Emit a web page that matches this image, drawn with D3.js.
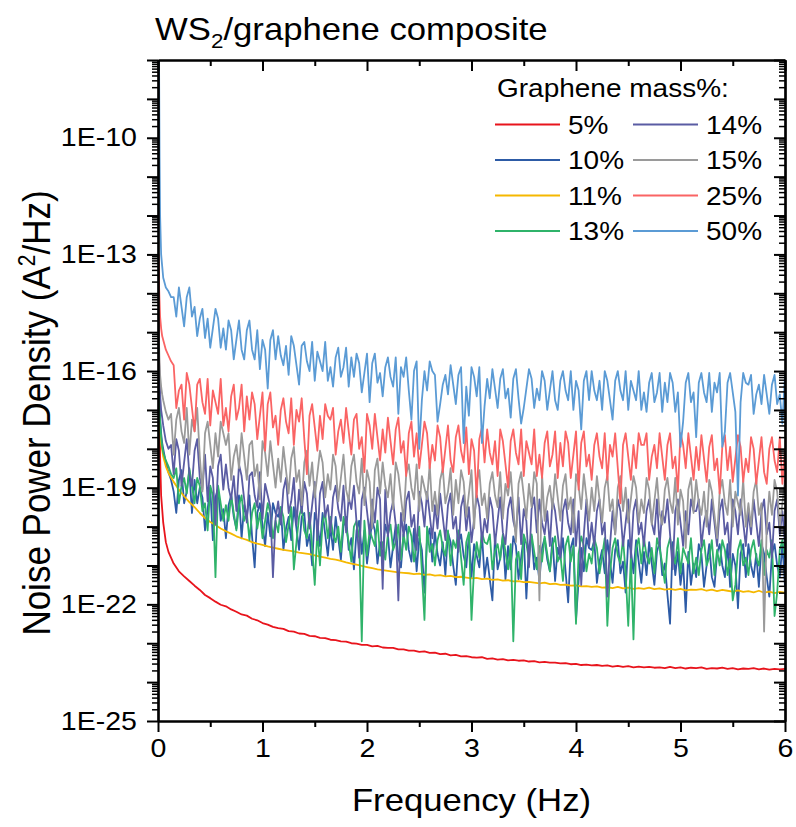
<!DOCTYPE html>
<html>
<head>
<meta charset="utf-8">
<script src="https://cdn.jsdelivr.net/npm/d3@7"></script>
<style>
  body { margin: 0; background: #fff; }
  text { font-family: "Liberation Sans", Arial, sans-serif; fill: #000; }
</style>
</head>
<body>
<div id="wrapper"></div>
<script>

// frequency grids (Hz): coarse for the smooth curves, fine for the noisy ones
const freqCoarse = [0.005, 0.01, 0.02, 0.03, 0.05, 0.075, 0.1,
  0.15, 0.2, 0.25, 0.3, 0.35, 0.4, 0.45, 0.5, 0.55, 0.6,
  0.65, 0.7, 0.75, 0.8, 0.85, 0.9, 0.95, 1, 1.05, 1.1,
  1.15, 1.2, 1.25, 1.3, 1.35, 1.4, 1.45, 1.5, 1.55, 1.6,
  1.65, 1.7, 1.75, 1.8, 1.85, 1.9, 1.95, 2, 2.05, 2.1,
  2.15, 2.2, 2.25, 2.3, 2.35, 2.4, 2.45, 2.5, 2.55, 2.6,
  2.65, 2.7, 2.75, 2.8, 2.85, 2.9, 2.95, 3, 3.05, 3.1,
  3.15, 3.2, 3.25, 3.3, 3.35, 3.4, 3.45, 3.5, 3.55, 3.6,
  3.65, 3.7, 3.75, 3.8, 3.85, 3.9, 3.95, 4, 4.05, 4.1,
  4.15, 4.2, 4.25, 4.3, 4.35, 4.4, 4.45, 4.5, 4.55, 4.6,
  4.65, 4.7, 4.75, 4.8, 4.85, 4.9, 4.95, 5, 5.05, 5.1,
  5.15, 5.2, 5.25, 5.3, 5.35, 5.4, 5.45, 5.5, 5.55, 5.6,
  5.65, 5.7, 5.75, 5.8, 5.85, 5.9, 5.95, 6]

const freqFine = [0.005, 0.01, 0.015, 0.02, 0.03, 0.04, 0.05, 0.075, 0.1, 0.125,
  0.15, 0.175, 0.2, 0.225, 0.25, 0.275, 0.3, 0.325, 0.35, 0.375, 0.4, 0.425, 0.45, 0.475, 0.5, 0.525, 0.55, 0.575, 0.6, 0.625,
  0.65, 0.675, 0.7, 0.725, 0.75, 0.775, 0.8, 0.825, 0.85, 0.875, 0.9, 0.925, 0.95, 0.975, 1, 1.025, 1.05, 1.075, 1.1, 1.125,
  1.15, 1.175, 1.2, 1.225, 1.25, 1.275, 1.3, 1.325, 1.35, 1.375, 1.4, 1.425, 1.45, 1.475, 1.5, 1.525, 1.55, 1.575, 1.6, 1.625,
  1.65, 1.675, 1.7, 1.725, 1.75, 1.775, 1.8, 1.825, 1.85, 1.875, 1.9, 1.925, 1.95, 1.975, 2, 2.025, 2.05, 2.075, 2.1, 2.125,
  2.15, 2.175, 2.2, 2.225, 2.25, 2.275, 2.3, 2.325, 2.35, 2.375, 2.4, 2.425, 2.45, 2.475, 2.5, 2.525, 2.55, 2.575, 2.6, 2.625,
  2.65, 2.675, 2.7, 2.725, 2.75, 2.775, 2.8, 2.825, 2.85, 2.875, 2.9, 2.925, 2.95, 2.975, 3, 3.025, 3.05, 3.075, 3.1, 3.125,
  3.15, 3.175, 3.2, 3.225, 3.25, 3.275, 3.3, 3.325, 3.35, 3.375, 3.4, 3.425, 3.45, 3.475, 3.5, 3.525, 3.55, 3.575, 3.6, 3.625,
  3.65, 3.675, 3.7, 3.725, 3.75, 3.775, 3.8, 3.825, 3.85, 3.875, 3.9, 3.925, 3.95, 3.975, 4, 4.025, 4.05, 4.075, 4.1, 4.125,
  4.15, 4.175, 4.2, 4.225, 4.25, 4.275, 4.3, 4.325, 4.35, 4.375, 4.4, 4.425, 4.45, 4.475, 4.5, 4.525, 4.55, 4.575, 4.6, 4.625,
  4.65, 4.675, 4.7, 4.725, 4.75, 4.775, 4.8, 4.825, 4.85, 4.875, 4.9, 4.925, 4.95, 4.975, 5, 5.025, 5.05, 5.075, 5.1, 5.125,
  5.15, 5.175, 5.2, 5.225, 5.25, 5.275, 5.3, 5.325, 5.35, 5.375, 5.4, 5.425, 5.45, 5.475, 5.5, 5.525, 5.55, 5.575, 5.6, 5.625,
  5.65, 5.675, 5.7, 5.725, 5.75, 5.775, 5.8, 5.825, 5.85, 5.875, 5.9, 5.925, 5.95, 5.975, 6]

// noise power density as log10(A^2/Hz), one list per graphene mass%
const log5 = [-13.0, -15.5, -18.2, -19.2, -19.9, -20.4, -20.65,
  -20.95, -21.15, -21.28, -21.4, -21.52, -21.63, -21.76, -21.84, -21.93, -22.01,
  -22.05, -22.13, -22.19, -22.26, -22.29, -22.37, -22.41, -22.48, -22.52, -22.58,
  -22.61, -22.63, -22.69, -22.7, -22.75, -22.76, -22.81, -22.82, -22.86, -22.87,
  -22.91, -22.92, -22.95, -22.96, -23.0, -23.01, -23.04, -23.04, -23.08, -23.07,
  -23.11, -23.12, -23.12, -23.16, -23.16, -23.19, -23.19, -23.22, -23.21, -23.25,
  -23.24, -23.28, -23.27, -23.31, -23.3, -23.34, -23.33, -23.36, -23.37, -23.36,
  -23.4, -23.39, -23.42, -23.41, -23.44, -23.43, -23.45, -23.44, -23.47, -23.46,
  -23.49, -23.48, -23.5, -23.5, -23.52, -23.51, -23.54, -23.53, -23.56, -23.55,
  -23.57, -23.56, -23.58, -23.57, -23.6, -23.58, -23.61, -23.59, -23.62, -23.6,
  -23.62, -23.61, -23.63, -23.62, -23.64, -23.61, -23.64, -23.62, -23.65, -23.63,
  -23.64, -23.62, -23.66, -23.64, -23.65, -23.63, -23.66, -23.64, -23.67, -23.65,
  -23.66, -23.64, -23.67, -23.65, -23.68, -23.66, -23.67, -23.66]

const log11 = [-16.6, -17.1, -17.6, -17.85, -18.2, -18.45, -18.62,
  -18.85, -19.05, -19.22, -19.37, -19.5, -19.65, -19.78, -19.88, -19.96, -20.05,
  -20.12, -20.18, -20.25, -20.3, -20.34, -20.4, -20.44, -20.47, -20.51, -20.54,
  -20.57, -20.6, -20.62, -20.64, -20.67, -20.69, -20.71, -20.74, -20.77, -20.8,
  -20.83, -20.85, -20.88, -20.92, -20.95, -20.98, -21.01, -21.04, -21.07, -21.1,
  -21.12, -21.14, -21.16, -21.18, -21.19, -21.2, -21.22, -21.21, -21.24, -21.23,
  -21.26, -21.25, -21.28, -21.27, -21.3, -21.29, -21.31, -21.33, -21.32, -21.35,
  -21.34, -21.37, -21.36, -21.39, -21.38, -21.41, -21.4, -21.43, -21.42, -21.44,
  -21.46, -21.44, -21.48, -21.47, -21.5, -21.49, -21.52, -21.51, -21.54, -21.53,
  -21.55, -21.54, -21.57, -21.56, -21.58, -21.55, -21.59, -21.57, -21.6, -21.58,
  -21.6, -21.57, -21.61, -21.59, -21.62, -21.6, -21.63, -21.6, -21.64, -21.62,
  -21.63, -21.61, -21.65, -21.62, -21.66, -21.63, -21.65, -21.67, -21.64, -21.68,
  -21.66, -21.69, -21.65, -21.7, -21.67, -21.71, -21.68, -21.7]

const log10 = [-15.4, -16.2, -16.8, -17.2, -17.6, -17.85, -18.0, -18.35, -18.6, -18.8,
  -19.1, -19.65, -18.8, -18.55, -19.4, -19.1, -18.55, -19.65, -18.8, -19.4, -19.0, -19.25, -20.1, -19.55, -19.0, -20.35, -19.25, -19.0, -19.85, -19.55,
  -20.3, -19.45, -19.2, -19.75, -20.05, -19.2, -20.3, -19.45, -19.75, -19.2, -20.25, -21.05, -19.65, -19.4, -19.95, -20.5, -19.65, -20.25, -19.4, -19.65,
  -19.75, -19.5, -20.6, -20.05, -19.75, -20.35, -19.5, -20.05, -20.6, -19.75, -19.65, -20.5, -20.2, -21.0, -19.65, -19.9, -20.5, -19.65, -20.2, -20.75,
  -20.0, -20.6, -19.75, -20.3, -20.85, -20.0, -19.75, -20.6, -20.3, -21.1, -20.1, -19.85, -20.7, -20.1, -20.95, -20.4, -19.85, -20.1, -20.95, -20.4,
  -20.8, -19.95, -20.2, -21.05, -20.5, -19.95, -20.8, -21.05, -20.2, -19.95, -20.6, -20.9, -20.05, -21.15, -20.3, -20.6, -21.7, -20.3, -20.05, -20.9,
  -20.15, -20.7, -21.0, -20.4, -21.25, -20.15, -20.4, -21.0, -21.5, -20.4, -20.2, -20.75, -21.05, -20.2, -21.3, -20.45, -20.75, -21.05, -20.2, -21.3,
  -20.8, -21.35, -21.9, -20.25, -21.1, -20.8, -20.25, -21.35, -20.5, -21.1, -20.25, -20.5, -21.35, -20.8, -20.25, -21.85, -20.5, -20.25, -21.1, -20.8,
  -21.4, -20.55, -20.3, -20.85, -21.15, -20.3, -21.4, -20.55, -20.85, -20.3, -21.15, -21.95, -20.55, -20.3, -22.4, -21.4, -20.55, -21.15, -20.3, -20.55,
  -20.6, -20.35, -21.45, -20.9, -20.6, -21.2, -20.35, -20.9, -21.45, -20.6, -20.35, -21.2, -20.9, -21.7, -20.35, -20.6, -21.2, -20.35, -20.9, -21.45,
  -20.65, -21.25, -20.4, -20.95, -21.5, -20.65, -20.4, -21.25, -20.95, -21.75, -22.5, -20.4, -21.25, -20.65, -21.5, -20.95, -22.2, -20.65, -21.5, -20.95,
  -21.3, -20.45, -20.7, -21.55, -21.0, -20.45, -21.3, -21.55, -20.7, -20.45, -21.0, -21.3, -20.45, -21.55, -20.7, -21.0, -22.1, -20.7, -20.45, -21.3,
  -20.45, -21.0, -21.3, -20.7, -21.55, -20.45, -20.7, -21.3, -21.8, -20.7, -20.45, -21.0, -21.3, -20.45, -21.55]

const log13 = [-15.6, -16.4, -17.0, -17.3, -17.7, -17.95, -18.1, -18.3, -18.45, -18.65,
  -18.75, -18.5, -19.4, -18.95, -18.75, -19.15, -18.5, -18.95, -19.4, -18.75, -18.95, -19.6, -19.4, -20.1, -18.95, -19.2, -21.3, -18.95, -19.4, -19.85,
  -19.45, -19.85, -19.2, -19.65, -20.1, -19.45, -19.2, -19.85, -19.65, -20.35, -19.65, -19.4, -20.05, -19.65, -20.3, -19.85, -19.4, -19.65, -20.3, -19.85,
  -20.15, -19.5, -19.75, -20.4, -19.95, -19.5, -21.1, -20.4, -19.75, -19.5, -20.1, -20.3, -19.65, -20.55, -21.5, -20.1, -21.0, -19.9, -19.65, -20.3,
  -19.75, -20.2, -20.4, -20.0, -20.65, -19.75, -20.0, -20.4, -20.9, -20.0, -19.85, -20.3, -22.95, -19.85, -20.75, -20.1, -20.3, -20.5, -19.85, -20.75,
  -20.4, -20.85, -20.2, -19.95, -20.6, -20.4, -19.95, -20.85, -20.2, -20.6, -20.0, -20.25, -20.9, -20.45, -20.0, -21.15, -22.4, -20.0, -20.65, -20.45,
  -21.0, -20.35, -20.1, -20.55, -20.75, -20.1, -21.0, -20.35, -20.55, -20.1, -20.8, -21.5, -20.4, -20.15, -22.4, -21.05, -20.4, -20.8, -20.15, -20.4,
  -20.45, -20.2, -21.1, -20.65, -20.45, -20.85, -20.2, -20.65, -21.1, -20.45, -22.95, -20.85, -20.65, -21.35, -20.2, -20.45, -20.85, -20.2, -20.65, -21.1,
  -20.5, -20.9, -20.25, -20.7, -21.15, -20.5, -20.25, -20.9, -20.7, -21.4, -20.5, -20.25, -20.9, -20.5, -22.5, -20.7, -20.25, -20.5, -21.15, -20.7,
  -20.95, -20.3, -20.55, -21.2, -20.75, -20.3, -22.55, -21.2, -20.55, -20.3, -20.75, -20.95, -20.3, -21.2, -22.55, -20.75, -22.9, -20.55, -20.3, -20.95,
  -20.3, -20.75, -20.95, -20.55, -21.2, -20.3, -20.55, -20.95, -21.45, -20.55, -20.3, -20.75, -20.95, -20.3, -21.2, -20.55, -20.75, -20.95, -20.3, -21.2,
  -20.8, -21.25, -20.6, -20.35, -21.0, -20.8, -20.35, -21.25, -20.6, -21.0, -20.35, -20.6, -21.25, -20.8, -21.9, -21.5, -20.6, -20.35, -21.0, -20.8,
  -21.25, -20.6, -20.35, -20.8, -21.0, -20.35, -21.25, -20.6, -20.8, -20.35, -22.3, -21.7, -20.6, -20.35, -20.8]

const log14 = [-15.0, -15.7, -16.2, -16.6, -17.0, -17.2, -17.4, -17.8, -18.0, -17.9,
  -18.65, -17.75, -18.05, -18.95, -18.35, -17.75, -18.65, -18.95, -18.05, -17.75, -18.75, -19.05, -18.15, -19.35, -18.45, -18.75, -19.95, -18.45, -18.15, -19.05,
  -18.4, -19.0, -19.3, -18.7, -19.6, -18.4, -18.7, -19.3, -19.9, -18.7, -18.6, -19.2, -19.5, -18.6, -19.8, -18.9, -19.2, -19.5, -21.3, -19.8,
  -19.35, -19.95, -19.05, -18.75, -19.65, -19.35, -18.75, -19.95, -19.05, -19.65, -18.85, -19.15, -20.05, -19.45, -18.85, -20.35, -19.15, -18.85, -19.75, -19.45,
  -20.15, -19.25, -18.95, -19.55, -19.85, -18.95, -20.15, -19.25, -19.55, -18.95, -19.9, -20.8, -19.3, -19.0, -19.6, -20.2, -19.3, -19.9, -19.0, -19.3,
  -21.6, -19.05, -20.25, -19.65, -19.35, -19.95, -21.9, -19.65, -20.25, -19.35, -19.1, -20.0, -19.7, -20.6, -19.1, -19.4, -20.0, -19.1, -19.7, -20.3,
  -19.45, -20.05, -19.15, -19.75, -20.35, -19.45, -19.15, -20.05, -19.75, -20.65, -19.5, -19.2, -20.1, -19.5, -20.4, -19.8, -19.2, -19.5, -20.4, -19.8,
  -20.15, -19.25, -19.55, -20.45, -19.85, -19.25, -20.15, -20.45, -19.55, -19.25, -19.85, -20.15, -19.25, -20.45, -19.55, -19.85, -21.05, -19.55, -19.25, -20.15,
  -19.3, -19.9, -20.2, -19.6, -20.5, -19.3, -19.6, -20.2, -20.8, -19.6, -19.3, -19.9, -20.2, -19.3, -20.5, -19.6, -21.5, -20.2, -19.3, -20.5,
  -19.9, -20.5, -19.6, -19.3, -20.2, -19.9, -21.8, -20.5, -19.6, -20.2, -19.3, -19.6, -20.5, -19.9, -19.3, -20.8, -19.6, -19.3, -20.2, -19.9,
  -20.5, -19.6, -19.3, -19.9, -20.2, -19.3, -20.5, -19.6, -19.9, -19.3, -20.2, -21.1, -19.6, -19.3, -19.9, -20.5, -19.6, -20.2, -19.3, -19.6,
  -19.6, -19.3, -20.5, -19.9, -19.6, -20.2, -19.3, -19.9, -20.5, -19.6, -19.3, -20.2, -19.9, -20.8, -19.3, -19.6, -20.2, -19.3, -19.9, -20.5,
  -19.6, -20.2, -19.3, -19.9, -20.5, -19.6, -19.3, -20.2, -19.9, -20.8, -19.6, -19.3, -20.2, -19.6, -20.5]

const log15 = [-14.6, -15.3, -15.8, -16.1, -16.4, -16.6, -16.75, -17.05, -17.25, -17.1,
  -18.15, -17.25, -16.95, -17.55, -17.85, -16.95, -18.15, -17.25, -17.55, -16.95, -18.2, -19.1, -17.6, -17.3, -17.9, -18.5, -17.6, -18.2, -17.3, -17.6,
  -17.9, -17.6, -18.8, -18.2, -17.9, -18.5, -17.6, -18.2, -18.8, -17.9, -17.8, -18.7, -18.4, -19.3, -17.8, -18.1, -18.7, -17.8, -18.4, -19.0,
  -18.25, -18.85, -17.95, -18.55, -19.15, -18.25, -17.95, -18.85, -18.55, -19.45, -18.35, -18.05, -18.95, -18.35, -19.25, -18.65, -18.05, -18.35, -19.25, -18.65,
  -19.05, -18.15, -18.45, -19.35, -18.75, -18.15, -19.05, -19.35, -18.45, -18.15, -18.85, -19.15, -18.25, -19.45, -18.55, -18.85, -20.05, -18.55, -18.25, -19.15,
  -18.35, -18.95, -19.25, -18.65, -19.55, -18.35, -18.65, -19.25, -19.85, -18.65, -18.4, -19.0, -19.3, -18.4, -19.6, -18.7, -19.0, -19.3, -18.4, -19.6,
  -19.1, -19.7, -18.8, -18.5, -19.4, -19.1, -18.5, -19.7, -18.8, -19.4, -18.55, -18.85, -19.75, -19.15, -18.55, -20.05, -18.85, -18.55, -19.45, -19.15,
  -19.8, -18.9, -18.6, -19.2, -19.5, -18.6, -19.8, -18.9, -19.2, -18.6, -19.5, -20.4, -18.9, -18.6, -19.2, -19.8, -18.9, -19.5, -18.6, -18.9,
  -21.9, -18.65, -19.85, -19.25, -18.95, -19.55, -18.65, -19.25, -19.85, -18.95, -18.65, -19.55, -19.25, -20.15, -18.65, -18.95, -19.55, -18.65, -19.25, -19.85,
  -19.0, -19.6, -18.7, -19.3, -19.9, -19.0, -18.7, -19.6, -19.3, -20.2, -19.0, -18.7, -19.6, -19.0, -19.9, -19.3, -18.7, -19.0, -19.9, -19.3,
  -19.65, -18.75, -19.05, -19.95, -19.35, -18.75, -19.65, -19.95, -19.05, -18.75, -19.35, -19.65, -18.75, -19.95, -19.05, -19.35, -20.55, -19.05, -18.75, -19.65,
  -18.8, -19.4, -19.7, -19.1, -20.0, -18.8, -19.1, -19.7, -20.3, -19.1, -18.8, -19.4, -19.7, -18.8, -20.0, -19.1, -19.4, -19.7, -18.8, -20.0,
  -19.4, -20.0, -19.1, -18.8, -19.7, -19.4, -22.7, -20.0, -19.1, -19.7, -18.8, -19.1, -20.0, -19.4, -18.8]

const log25 = [-13.2, -13.8, -14.2, -14.6, -14.9, -15.1, -15.2, -15.45, -15.6, -15.75,
  -15.85, -16.95, -16.5, -16.35, -17.25, -16.05, -16.35, -16.95, -17.55, -16.35, -16.2, -16.8, -17.1, -16.2, -17.4, -16.5, -16.8, -17.1, -16.2, -17.4,
  -16.95, -17.55, -16.65, -16.35, -17.25, -16.95, -16.35, -17.55, -16.65, -17.25, -16.55, -16.85, -17.75, -17.15, -16.55, -18.05, -16.85, -16.55, -17.45, -17.15,
  -17.9, -17.0, -16.7, -17.3, -17.6, -16.7, -17.9, -17.0, -17.3, -16.7, -17.75, -18.65, -17.15, -16.85, -17.45, -18.05, -17.15, -17.75, -16.85, -17.15,
  -17.25, -16.95, -18.15, -17.55, -17.25, -17.85, -16.95, -17.55, -18.15, -17.25, -17.1, -18.0, -17.7, -18.6, -17.1, -17.4, -18.0, -17.1, -17.7, -18.3,
  -17.5, -18.1, -17.2, -17.8, -18.4, -17.5, -17.2, -18.1, -17.8, -18.7, -17.6, -17.3, -18.2, -17.6, -18.5, -17.9, -17.3, -17.6, -18.5, -17.9,
  -18.3, -17.4, -17.7, -18.6, -18.0, -17.4, -18.3, -18.6, -17.7, -17.4, -18.05, -18.35, -17.45, -18.65, -17.75, -18.05, -19.25, -17.75, -17.45, -18.35,
  -17.5, -18.1, -18.4, -17.8, -18.7, -17.5, -17.8, -18.4, -19.0, -17.8, -17.5, -18.1, -18.4, -17.5, -18.7, -17.8, -18.1, -18.4, -17.5, -18.7,
  -18.15, -18.75, -17.85, -17.55, -18.45, -18.15, -17.55, -18.75, -17.85, -18.45, -17.55, -17.85, -18.75, -18.15, -17.55, -19.05, -17.85, -17.55, -18.45, -18.15,
  -18.8, -17.9, -17.6, -18.2, -18.5, -17.6, -18.8, -17.9, -18.2, -17.6, -18.5, -19.4, -17.9, -17.6, -18.2, -18.8, -17.9, -18.5, -17.6, -17.9,
  -17.9, -17.6, -18.8, -18.2, -17.9, -18.5, -17.6, -18.2, -18.8, -17.9, -17.6, -18.5, -18.2, -19.1, -17.6, -17.9, -18.5, -17.6, -18.2, -18.8,
  -17.95, -18.55, -17.65, -18.25, -18.85, -17.95, -17.65, -18.55, -18.25, -19.15, -17.95, -17.65, -18.55, -17.95, -18.85, -18.25, -17.65, -17.95, -18.85, -18.25,
  -18.6, -17.7, -18.0, -18.9, -18.3, -17.7, -18.6, -18.9, -18.0, -17.7, -18.3, -18.6, -17.7, -18.9, -18.0]

const log50 = [-7.0, -8.0, -10.5, -12.0, -13.0, -13.3, -13.6, -13.85, -13.95, -14.1,
  -14.1, -14.6, -13.85, -14.35, -14.85, -14.1, -13.85, -14.6, -14.35, -15.1, -14.65, -14.4, -15.15, -14.65, -15.4, -14.9, -14.4, -14.65, -15.4, -14.9,
  -15.45, -14.7, -14.95, -15.7, -15.2, -14.7, -15.45, -15.7, -14.95, -14.7, -15.45, -15.7, -14.95, -15.95, -15.2, -15.45, -16.45, -15.2, -14.95, -15.7,
  -15.1, -15.6, -15.85, -15.35, -16.1, -15.1, -15.35, -15.85, -16.35, -15.35, -15.25, -15.75, -16.0, -15.25, -16.25, -15.5, -15.75, -16.0, -15.25, -16.25,
  -15.9, -16.4, -15.65, -15.4, -16.15, -15.9, -15.4, -16.4, -15.65, -16.15, -15.55, -15.8, -16.55, -16.05, -15.55, -16.8, -15.8, -15.55, -16.3, -16.05,
  -16.65, -15.9, -15.65, -16.15, -16.4, -15.65, -17.1, -15.9, -16.15, -15.65, -16.5, -17.25, -16.0, -15.75, -18.0, -16.75, -16.0, -16.5, -15.75, -16.0,
  -16.1, -17.3, -16.85, -16.35, -16.1, -16.6, -15.85, -16.35, -16.85, -16.1, -15.9, -17.85, -16.4, -17.15, -15.9, -16.15, -16.65, -15.9, -17.85, -16.9,
  -16.2, -16.7, -15.95, -16.45, -16.95, -16.2, -15.95, -16.7, -16.45, -17.2, -16.2, -15.95, -16.7, -17.35, -16.95, -16.45, -15.95, -16.2, -16.95, -16.45,
  -16.75, -16.0, -16.25, -17.0, -16.5, -16.0, -16.75, -17.0, -16.25, -16.0, -16.5, -16.75, -16.0, -17.0, -16.25, -16.5, -17.5, -16.25, -16.0, -16.75,
  -16.0, -16.5, -16.75, -16.25, -17.0, -16.0, -16.25, -16.75, -17.25, -16.25, -16.0, -16.5, -16.75, -16.0, -17.0, -16.25, -16.5, -16.75, -16.0, -17.0,
  -16.55, -17.05, -16.3, -16.05, -16.8, -16.55, -16.05, -17.05, -16.3, -16.8, -16.05, -16.3, -17.05, -16.55, -17.95, -17.3, -16.3, -16.05, -16.8, -16.55,
  -17.7, -16.3, -16.05, -16.55, -16.8, -16.05, -17.05, -16.3, -16.55, -16.05, -17.95, -17.55, -16.3, -16.05, -16.55, -17.05, -19.2, -16.8, -16.05, -16.3,
  -16.35, -16.1, -17.1, -16.6, -16.35, -16.85, -16.1, -16.6, -17.1, -16.35, -16.1, -16.85, -16.6, -17.35, -16.1]

const seriesNames = ["5%", "10%", "11%", "13%", "14%", "15%", "25%", "50%"]
const seriesValues = [log5, log10, log11, log13, log14, log15, log25, log50]
const seriesFreq = [freqCoarse, freqFine, freqCoarse, freqFine, freqFine, freqFine, freqFine, freqFine]
const seriesColors = ["#e8141c", "#2d5ba6", "#f5b800", "#2fb36a", "#5a5ca3", "#9a9a9a", "#fa6464", "#5b9bd5"]

const xTicks = [0, 1, 2, 3, 4, 5, 6]
const yLabelExps = [-10, -13, -16, -19, -22, -25]

// glyphs in the picture are a bit wider than Arial
const SX = 1.12

function drawChart() {

    let dimensions = {
        width: 796,
        height: 827,
        margin: { top: 60, right: 11, bottom: 106, left: 158 },
    }
    dimensions.boundedWidth = dimensions.width - dimensions.margin.left - dimensions.margin.right
    dimensions.boundedHeight = dimensions.height - dimensions.margin.top - dimensions.margin.bottom

    const wrapper = d3.select("#wrapper")
        .append("svg")
        .attr("width", dimensions.width)
        .attr("height", dimensions.height)

    const bounds = wrapper.append("g")
        .attr("transform", `translate(${dimensions.margin.left}, ${dimensions.margin.top})`)

    // scales
    const xScale = d3.scaleLinear()
        .domain([0, 6])
        .range([0, dimensions.boundedWidth])

    const yScale = d3.scaleLog()
        .domain([1e-25, 1e-8])
        .range([dimensions.boundedHeight, 0])

    // data lines
    bounds.append("defs").append("clipPath")
        .attr("id", "plot-clip")
        .append("rect")
        .attr("width", dimensions.boundedWidth)
        .attr("height", dimensions.boundedHeight)

    const lineGenerator = d3.line()
        .x(d => xScale(d.f))
        .y(d => yScale(Math.pow(10, d.v)))

    const series = seriesNames.map((name, i) => ({
        name: name,
        color: seriesColors[i],
        points: seriesFreq[i].map((f, j) => ({ f: f, v: seriesValues[i][j] }))
            .filter(p => p.v !== undefined),
    }))

    bounds.append("g")
        .attr("clip-path", "url(#plot-clip)")
        .selectAll("path")
        .data(series)
        .enter().append("path")
        .attr("fill", "none")
        .attr("stroke", d => d.color)
        .attr("stroke-width", 1.8)
        .attr("stroke-linejoin", "round")
        .attr("d", d => lineGenerator(d.points))

    // axes
    const decades = d3.range(-25, -7).map(e => Math.pow(10, e))
    const minorY = []
    d3.range(-25, -8).forEach(e => { for (let m = 2; m <= 9; m++) minorY.push(m * Math.pow(10, e)) })
    const minorX = [0.5, 1.5, 2.5, 3.5, 4.5, 5.5]

    const yLabel = d => {
        const e = Math.round(Math.log10(d))
        return yLabelExps.includes(e) ? `1E${e}` : ""
    }

    const styleAxis = (g, w) => {
        g.selectAll(".domain").attr("stroke-width", 2.2)
        g.selectAll(".tick line").attr("stroke-width", w)
    }

    // left, outward
    const leftMinor = bounds.append("g")
        .call(d3.axisLeft(yScale).tickValues(minorY).tickSize(6).tickSizeOuter(0).tickFormat(""))
    styleAxis(leftMinor, 1.5)
    const leftAxis = bounds.append("g")
        .call(d3.axisLeft(yScale).tickValues(decades).tickSize(11).tickSizeOuter(0).tickPadding(10).tickFormat(yLabel))
    styleAxis(leftAxis, 2)
    leftAxis.selectAll("text")
        .attr("font-size", 25.5)
        .attr("font-family", "'Liberation Sans', Arial, sans-serif")
        .attr("x", -21 / SX)
        .attr("transform", `scale(${SX},1)`)

    // right, inward
    const rightMinor = bounds.append("g")
        .attr("transform", `translate(${dimensions.boundedWidth}, 0)`)
        .call(d3.axisLeft(yScale).tickValues(minorY).tickSize(6).tickSizeOuter(0).tickFormat(""))
    styleAxis(rightMinor, 1.5)
    const rightAxis = bounds.append("g")
        .attr("transform", `translate(${dimensions.boundedWidth}, 0)`)
        .call(d3.axisLeft(yScale).tickValues(decades).tickSize(11).tickSizeOuter(0).tickFormat(""))
    styleAxis(rightAxis, 2)

    // bottom, outward
    const bottomMinor = bounds.append("g")
        .attr("transform", `translate(0, ${dimensions.boundedHeight})`)
        .call(d3.axisBottom(xScale).tickValues(minorX).tickSize(6).tickSizeOuter(0).tickFormat(""))
    styleAxis(bottomMinor, 2)
    const bottomAxis = bounds.append("g")
        .attr("transform", `translate(0, ${dimensions.boundedHeight})`)
        .call(d3.axisBottom(xScale).tickValues(xTicks).tickSize(11).tickSizeOuter(0).tickPadding(7).tickFormat(d3.format("d")))
    styleAxis(bottomAxis, 2)
    bottomAxis.selectAll("text")
        .attr("font-size", 25.5)
        .attr("font-family", "'Liberation Sans', Arial, sans-serif")
        .attr("transform", `scale(${SX},1)`)

    // top, inward
    const topMinor = bounds.append("g")
        .call(d3.axisBottom(xScale).tickValues(minorX).tickSize(6).tickSizeOuter(0).tickFormat(""))
    styleAxis(topMinor, 2)
    const topAxis = bounds.append("g")
        .call(d3.axisBottom(xScale).tickValues(xTicks).tickSize(11).tickSizeOuter(0).tickFormat(""))
    styleAxis(topAxis, 2)

    // titles
    const title = wrapper.append("text")
        .attr("transform", `translate(155, 40) scale(${SX},1)`)
        .attr("font-size", 31)
    title.append("tspan").text("WS")
    title.append("tspan").attr("font-size", 20).attr("dy", 8).text("2")
    title.append("tspan").attr("dy", -8).text("/graphene composite")

    wrapper.append("text")
        .attr("transform", `translate(${dimensions.margin.left + dimensions.boundedWidth / 2}, 811) scale(${SX},1)`)
        .attr("text-anchor", "middle")
        .attr("font-size", 31)
        .text("Frequency (Hz)")

    const yTitle = wrapper.append("text")
        .attr("transform", `translate(50, 413) rotate(-90) scale(1,${SX})`)
        .attr("text-anchor", "middle")
        .attr("font-size", 35)
    yTitle.append("tspan").text("Noise Power Density (A")
    yTitle.append("tspan").attr("font-size", 21).attr("dy", -13).text("2")
    yTitle.append("tspan").attr("dy", 13).text("/Hz)")

    // legend
    const legend = wrapper.append("g")

    legend.append("text")
        .attr("transform", `translate(497, 97) scale(${SX},1)`)
        .attr("font-size", 25)
        .text("Graphene mass%:")

    const legendItems = legend.selectAll(".item")
        .data(series)
        .enter().append("g")
        .attr("class", "item")
        .attr("transform", (d, i) => `translate(${i < 4 ? 495 : 633}, ${124.5 + (i % 4) * 35.5})`)

    legendItems.append("line")
        .attr("x1", 0)
        .attr("x2", 65)
        .attr("stroke", d => d.color)
        .attr("stroke-width", 2)

    legendItems.append("text")
        .attr("transform", `translate(73, 0) scale(${SX},1)`)
        .attr("dy", "0.36em")
        .attr("font-size", 25)
        .text(d => d.name)
}

drawChart()
</script>
</body>
</html>
